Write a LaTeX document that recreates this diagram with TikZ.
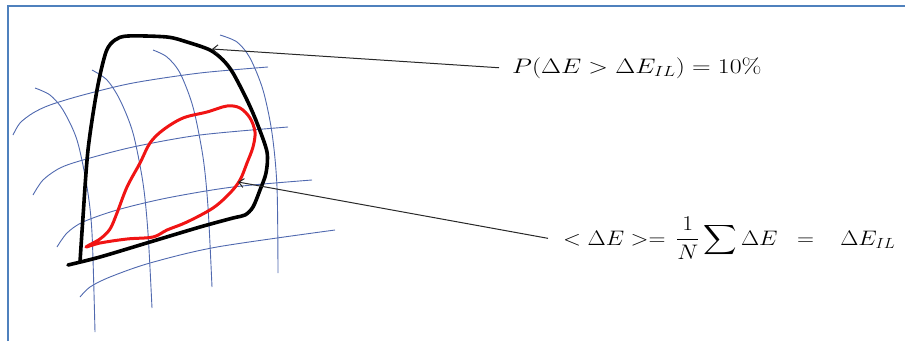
\RequirePackage{fix-cm}
\documentclass[tikz,border=0pt]{standalone}
\usepackage{exscale}
\usetikzlibrary{arrows.meta}
\definecolor{framec}{RGB}{79,129,189}
\definecolor{gridc}{RGB}{80,105,175}
\definecolor{redc}{RGB}{240,20,20}
\definecolor{leader}{RGB}{40,40,40}
\tikzset{
  gridline/.style={gridc, line width=0.9pt},
  outline/.style={black, line width=3.6pt, line cap=round, line join=round},
  inner/.style={redc, line width=3.0pt, line cap=round, line join=round},
  leaderline/.style={leader, line width=1pt, -{Straight Barb[length=5pt,width=9pt]}},
  formula/.style={inner ysep=0pt, font=\fontsize{21}{25}\selectfont},
}
\begin{document}
\begin{tikzpicture}[x=1pt,y=-1pt]
\useasboundingbox (0,0) rectangle (905,341);
% frame
\draw[framec, line width=2pt] (8,341) -- (8,6) -- (905,6);
% grid
\draw[gridline] plot[smooth] coordinates {(13,135) (20,123) (33,113) (50,105) (83,95) (133,83) (200,73) (268,67)};
\draw[gridline] plot[smooth] coordinates {(33,195) (43,180) (60,168) (83,160) (133,147) (200,135) (288,127)};
\draw[gridline] plot[smooth] coordinates {(57,247) (67,233) (83,222) (117,210) (167,198) (233,187) (312,180)};
\draw[gridline] plot[smooth] coordinates {(80,297) (90,287) (110,277) (150,263) (217,247) (335,230)};
\draw[gridline] plot[smooth] coordinates {(35,88) (50,95) (63,110) (77,140) (87,187) (92,233) (95,332)};
\draw[gridline] plot[smooth] coordinates {(92,70) (107,80) (120,100) (133,133) (143,183) (148,233) (152,308)};
\draw[gridline] plot[smooth] coordinates {(153,50) (167,57) (180,73) (193,107) (203,157) (208,207) (212,287)};
\draw[gridline] plot[smooth] coordinates {(220,35) (237,42) (250,58) (263,90) (272,133) (277,187) (278,273)};
% black outline
\draw[outline] plot[smooth, tension=0.5] coordinates {(80,262) (83,217) (88,150) (97,90) (106,52) (115,40) (128,36) (167,37) (187,42) (210,50) (223,60) (233,73) (247,100) (257,123) (267,152) (266,173) (260,190) (253,207) (245,215) (233,218) (200,227) (150,242) (100,257) (68,265)};
% red outline
\draw[inner] plot[smooth cycle, tension=0.55] coordinates {(86,247) (100,239) (110,229) (117,213) (127,187) (140,163) (150,143) (163,130) (183,118) (207,112) (227,106) (240,108) (250,118) (255,132) (253,147) (247,163) (240,180) (230,193) (213,208) (187,222) (167,230) (153,237) (127,239) (100,243)};
% labels
\node[formula, anchor=base west, inner xsep=13pt] (ptext) at (499,73)
  {\scalebox{1.23}[1]{$P(\Delta E > \Delta E_{IL}) = 10\%$}};
\node[formula, anchor=base west, inner xsep=15pt] (etext) at (548,245)
  {\scalebox{1.12}[1]{$\displaystyle <\Delta E>=\,\frac{1}{N}\sum\Delta E\;\;=\;\;\;\Delta E_{IL}$}};
\coordinate (ptip) at (212,49);
\coordinate (etip) at (238,182);
\draw[leaderline] (ptext.west) -- (ptip);
\draw[leaderline] (etext.west) -- (etip);
\end{tikzpicture}
\end{document}
